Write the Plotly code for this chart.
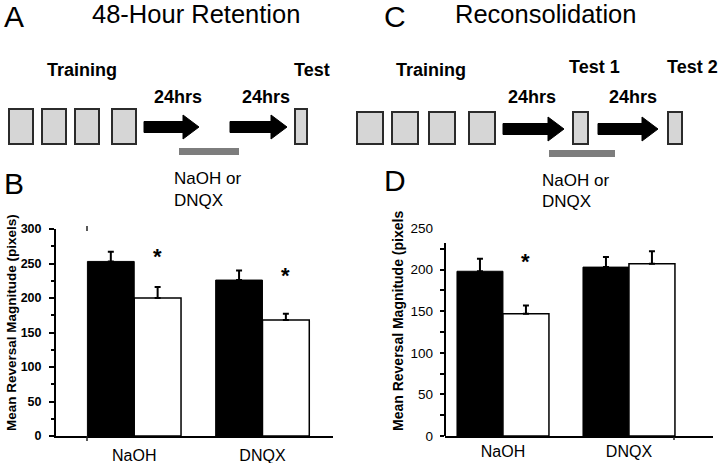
import plotly.graph_objects as go

W, H = 720, 463

categories = ["NaOH", "DNQX"]

# B: 48-hour retention
b_black = [253, 226]
b_black_err = [14, 14]
b_white = [200, 168]
b_white_err = [16, 9]

# D: reconsolidation
d_black = [198, 203]
d_black_err = [15, 12]
d_white = [147, 207]
d_white_err = [10, 15]

# which group got a significance star (placed at the black bar's error top)
b_sig = [True, True]
d_sig = [True, False]

FONT = "Liberation Sans, Arial, sans-serif"


def px(x):
    return x / W


def py(y):
    return 1 - y / H


fig = go.Figure()


def add_bars(xa, ya, black, black_err, white, white_err):
    fig.add_trace(go.Bar(
        x=categories, y=black, xaxis=xa, yaxis=ya,
        marker=dict(color="black", line=dict(color="black", width=1)),
        error_y=dict(type="data", array=black_err, arrayminus=[0] * len(black),
                     symmetric=False, color="black", thickness=2, width=3),
        showlegend=False,
    ))
    fig.add_trace(go.Bar(
        x=categories, y=white, xaxis=xa, yaxis=ya,
        marker=dict(color="white", line=dict(color="black", width=1.5)),
        error_y=dict(type="data", array=white_err, arrayminus=[0] * len(white),
                     symmetric=False, color="black", thickness=2, width=3),
        showlegend=False,
    ))


add_bars("x", "y", b_black, b_black_err, b_white, b_white_err)
add_bars("x2", "y2", d_black, d_black_err, d_white, d_white_err)

axis_common = dict(color="black", linecolor="black", linewidth=2, showgrid=False,
                   zeroline=False, fixedrange=True, automargin=False)

fig.update_layout(
    width=W, height=H,
    margin=dict(l=0, r=0, t=0, b=0),
    paper_bgcolor="white", plot_bgcolor="rgba(0,0,0,0)",
    barmode="group", bargap=0.27, bargroupgap=0,
    font=dict(family=FONT, color="black"),
    xaxis=dict(domain=[px(56), px(333)], range=[-0.61, 1.55], anchor="y",
               showline=True, ticks="", ticklabelstandoff=4,
               tickfont=dict(size=16), **axis_common),
    yaxis=dict(domain=[py(436), py(229)], range=[0, 300], anchor="x",
               showline=True, tickvals=[0, 50, 100, 150, 200, 250, 300],
               ticks="outside", ticklen=5, tickwidth=2, ticklabelstandoff=5,
               minor=dict(dtick=25, ticks="outside", ticklen=3, tickwidth=1.5, tickcolor="black"),
               tickfont=dict(size=12.5, weight="bold"),
               **axis_common),
    xaxis2=dict(domain=[px(445), px(713)], range=[-0.46, 1.667], anchor="y2",
                showline=True, ticks="", ticklabelstandoff=0,
                tickfont=dict(size=16), **axis_common),
    yaxis2=dict(domain=[py(436), py(228)], range=[0, 250], anchor="x2",
                showline=False, tickvals=[0, 50, 100, 150, 200, 250],
                ticks="", ticklabelstandoff=11,
                tickfont=dict(size=13.5), **axis_common),
    # tick marks for D only along the drawn part of the axis
    yaxis3=dict(domain=[py(436), py(228)], range=[0, 250], anchor="x2",
                overlaying="y2", showline=False, showticklabels=False,
                tickvals=list(range(0, 250, 25)), ticks="outside", ticklen=4,
                tickwidth=1.5, **axis_common),
)

# invisible trace so yaxis3 gets drawn
fig.add_trace(go.Scatter(x=[categories[0]], y=[0], xaxis="x2", yaxis="y3",
                         mode="markers", marker=dict(opacity=0), showlegend=False,
                         hoverinfo="skip"))

shapes = []
# D y axis line stops below the top label
shapes.append(dict(type="line", xref="x2 domain", yref="y2", x0=0, x1=0, y0=0, y1=232,
                   line=dict(color="black", width=2)))
# stray little marks of the original figure
for x, y0, y1 in [(87, 436, 441), (87, 226, 231), (674, 437, 440)]:
    shapes.append(dict(type="line", xref="paper", yref="paper", x0=px(x), x1=px(x),
                       y0=py(y0), y1=py(y1), line=dict(color="#222", width=1.5)))


def box(x0, y0, x1, y1):
    shapes.append(dict(type="rect", xref="paper", yref="paper",
                       x0=px(x0), x1=px(x1), y0=py(y1), y1=py(y0),
                       fillcolor="#d6d6d6", line=dict(color="#2b2b2b", width=2)))


def arrow(x0, x1, yc):
    hl = 16
    path = "M {} {} L {} {} L {} {} L {} {} L {} {} L {} {} L {} {} Z".format(
        px(x0), py(yc - 5.5), px(x1 - hl), py(yc - 5.5), px(x1 - hl), py(yc - 12),
        px(x1), py(yc), px(x1 - hl), py(yc + 12), px(x1 - hl), py(yc + 5.5),
        px(x0), py(yc + 5.5))
    shapes.append(dict(type="path", xref="paper", yref="paper", path=path,
                       fillcolor="black", line=dict(color="black", width=1)))


def bar_gray(x0, y0, x1, y1):
    shapes.append(dict(type="rect", xref="paper", yref="paper",
                       x0=px(x0), x1=px(x1), y0=py(y1), y1=py(y0),
                       fillcolor="#7d7d7d", line=dict(width=0)))


# A schematic
for x0 in [9, 42, 75, 112]:
    box(x0, 109, x0 + 24, 144)
box(295, 109, 307, 144)
arrow(144, 199, 127)
arrow(230, 287, 127)
bar_gray(179, 148, 239, 155)

# C schematic
for x0 in [357, 392, 429, 469]:
    box(x0, 112, x0 + 26, 144)
box(573, 112, 588, 144)
box(668, 112, 682, 144)
arrow(503, 564, 129)
arrow(598, 658, 129)
bar_gray(549, 150, 615, 157)

fig.update_layout(shapes=shapes)

ann = []


def text(s, x, y, size, bold=False, anchor="center", angle=0):
    ann.append(dict(text=s, xref="paper", yref="paper", x=px(x), y=py(y),
                    xanchor=anchor, yanchor="middle", showarrow=False, textangle=angle,
                    font=dict(size=size, family=FONT, color="black",
                              weight="bold" if bold else "normal")))


text("A", 14, 17, 30)
text("48-Hour Retention", 196, 14, 25.5)
text("C", 395, 17, 30)
text("Reconsolidation", 545, 14, 25.5)
text("B", 14, 183, 30)
text("D", 395, 181, 30)

text("Training", 82, 70, 18, bold=True)
text("Test", 312, 70, 18, bold=True)
text("24hrs", 178, 97, 18, bold=True)
text("24hrs", 266, 97, 18, bold=True)
text("NaOH or", 172, 179, 17, anchor="left")
text("DNQX", 172, 200, 17, anchor="left")

text("Training", 431, 70, 18, bold=True)
text("Test 1", 594, 67, 18, bold=True)
text("Test 2", 720, 67, 18, bold=True, anchor="right")
text("24hrs", 532, 97, 18, bold=True)
text("24hrs", 633, 97, 18, bold=True)
text("NaOH or", 540, 180, 17, anchor="left")
text("DNQX", 540, 201, 17, anchor="left")

text("Mean Reversal Magnitude (pixels)", 11, 323, 13.5, bold=True, angle=-90)
text("Mean Reversal Magnitude (pixels", 398, 321, 14, bold=True, angle=-90)

# significance stars, at the level of the black bar's error top, over the white bar
offset = 0.73 / 4
for i, c in enumerate(categories):
    if b_sig[i]:
        ann.append(dict(text="*", xref="x", yref="y", x=i + offset,
                        y=b_black[i] + b_black_err[i], yshift=-5, showarrow=False,
                        font=dict(size=22, family=FONT, weight="bold")))
    if d_sig[i]:
        ann.append(dict(text="*", xref="x2", yref="y2", x=i + offset,
                        y=d_black[i] + d_black_err[i], yshift=-3, showarrow=False,
                        font=dict(size=22, family=FONT, weight="bold")))

fig.update_layout(annotations=ann)

# the page's default body margin would push the 720x463 figure off the window
fig.write_html("out.html", config={"displayModeBar": False},
               post_script="document.body.style.margin='0';")
